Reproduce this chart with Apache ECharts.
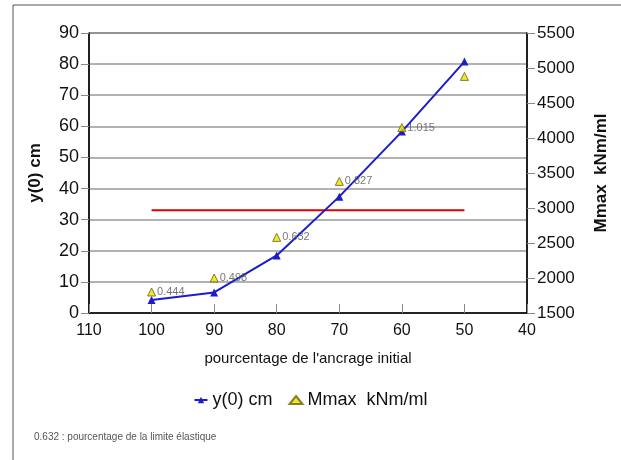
<!DOCTYPE html>
<html>
<head>
<meta charset="utf-8">
<script src="https://cdn.jsdelivr.net/npm/echarts@6/dist/echarts.min.js"></script>
<style>
  html, body { margin: 0; padding: 0; background: #fff; }
  #chart { width: 621px; height: 460px; }
</style>
</head>
<body>
<div id="chart"></div>
<script>
// pourcentage de l'ancrage initial
const ancrage = [100, 90, 80, 70, 60, 50];
const y0cm = [4.2, 6.6, 18.5, 37.4, 58.3, 80.8];
const mmax = [1800, 2000, 2580, 3380, 4150, 4880];
const ratioLabels = ['0.444', '0.498', '0.632', '0.827', '1.015', ''];
const limitX = [100, 50];
const limitY = 33;

const chart = echarts.init(document.getElementById('chart'));

const font = 'Liberation Sans, Arial, sans-serif';

const option = {
  backgroundColor: '#fff',
  animation: false,
  textStyle: { fontFamily: font },
  grid: {
    left: 89, top: 33, right: 94, bottom: 147,
    show: true, borderColor: '#000', borderWidth: 1
  },
  xAxis: {
    type: 'value',
    inverse: true,
    min: 40, max: 110, interval: 10,
    name: "pourcentage de l'ancrage initial",
    nameLocation: 'middle',
    nameGap: 38,
    nameTextStyle: { fontSize: 15, color: '#111' },
    axisLine: { lineStyle: { color: '#000', width: 1.5 } },
    axisTick: { inside: true, length: 9, lineStyle: { color: '#888' } },
    axisLabel: { fontSize: 16, color: '#111', margin: 10 },
    splitLine: { show: false }
  },
  yAxis: [{
    type: 'value',
    min: 0, max: 90, interval: 10,
    name: 'y(0) cm',
    nameLocation: 'middle',
    nameGap: 45,
    nameTextStyle: { fontSize: 17, fontWeight: 'bold', color: '#111' },
    axisLine: { show: true, lineStyle: { color: '#000', width: 1.5 } },
    axisTick: { show: true, length: 8, lineStyle: { color: '#888' } },
    axisLabel: { fontSize: 18, color: '#111', margin: 10 },
    splitLine: { lineStyle: { color: '#999', width: 1.5 } }
  }, {
    type: 'value',
    min: 1500, max: 5500, interval: 500,
    name: 'Mmax  kNm/ml',
    nameLocation: 'middle',
    nameGap: 66,
    nameRotate: 90,
    nameTextStyle: { fontSize: 17, fontWeight: 'bold', color: '#111' },
    axisLine: { show: true, lineStyle: { color: '#000', width: 1.5 } },
    axisTick: { show: true, length: 8, lineStyle: { color: '#888' } },
    axisLabel: { fontSize: 17, color: '#111', margin: 10, formatter: v => String(v) },
    splitLine: { show: false }
  }],
  legend: {
    bottom: 46,
    left: 'center',
    itemGap: 16,
    itemWidth: 13,
    itemHeight: 8,
    textStyle: { fontSize: 18, color: '#111' },
    data: ['y(0) cm', 'Mmax  kNm/ml']
  },
  series: [{
    name: 'y(0) cm',
    type: 'line',
    data: ancrage.map((x, i) => [x, y0cm[i]]),
    symbol: 'triangle',
    symbolSize: 8,
    lineStyle: { color: '#1c1ccc', width: 2 },
    itemStyle: { color: '#1c1ccc' },
    z: 3
  }, {
    name: 'Mmax  kNm/ml',
    type: 'scatter',
    yAxisIndex: 1,
    data: ancrage.map((x, i) => [x, mmax[i]]),
    symbol: 'triangle',
    symbolSize: 8,
    itemStyle: { color: '#e8e000', borderColor: '#6b6200', borderWidth: 1 },
    label: {
      show: true,
      position: 'right',
      distance: 1,
      fontSize: 11,
      color: '#555',
      formatter: p => ratioLabels[p.dataIndex]
    },
    z: 4
  }, {
    name: 'limite',
    type: 'line',
    data: limitX.map(x => [x, limitY]),
    symbol: 'none',
    lineStyle: { color: '#e00000', width: 2 },
    z: 2
  }],
  graphic: [
    { type: 'line', shape: { x1: 13, y1: 5, x2: 621, y2: 5 }, style: { stroke: '#555', lineWidth: 1 } },
    { type: 'line', shape: { x1: 13, y1: 5, x2: 13, y2: 460 }, style: { stroke: '#555', lineWidth: 1 } },
    {
      type: 'text', left: 34, top: 432,
      style: { text: '0.632 : pourcentage de la limite élastique', fontSize: 10, fill: '#555', fontFamily: font }
    }
  ]
};

chart.setOption(option);
</script>
</body>
</html>
